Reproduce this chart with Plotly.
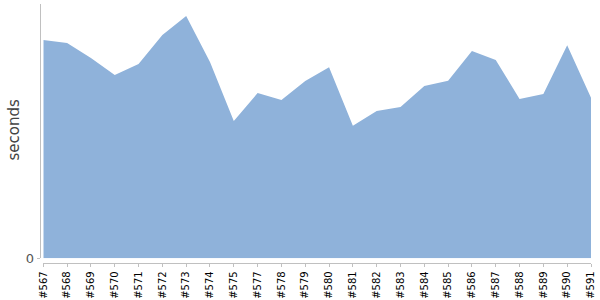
import plotly.graph_objects as go

builds = ["#567", "#568", "#569", "#570", "#571", "#572", "#573", "#574", "#575",
          "#577", "#578", "#579", "#580", "#581", "#582", "#583", "#584", "#585",
          "#586", "#587", "#588", "#589", "#590", "#591"]
seconds = [21.83, 21.53, 20.03, 18.33, 19.43, 22.33, 24.23, 19.63, 13.73,
           16.53, 15.83, 17.73, 19.10, 13.26, 14.73, 15.13, 17.23, 17.76,
           20.73, 19.83, 15.93, 16.43, 21.30, 16.06]
y_max = 25.43

W, H = 600, 300
fig = go.Figure()
fig.add_trace(go.Scatter(
    x=builds, y=seconds, mode="lines", fill="tozeroy",
    line=dict(width=0, color="#8fb2da"), fillcolor="#8fb2da",
    hoverinfo="x+y",
))

fig.update_layout(
    width=W, height=H,
    margin=dict(l=0, r=0, t=0, b=0, autoexpand=False),
    paper_bgcolor="white", plot_bgcolor="white",
    showlegend=False,
    font=dict(family="DejaVu Sans"),
    xaxis=dict(
        domain=[43.3 / W, 591 / W],
        anchor="free", position=1 - 263.3 / H,
        automargin=False,
        type="category", range=[0, len(builds) - 1],
        showgrid=False, zeroline=False,
        showline=True, linecolor="#c0c0c0", linewidth=1,
        ticks="outside", ticklen=3, tickcolor="#c0c0c0",
        tickangle=-90, tickfont=dict(size=10, color="#000000"),
    ),
    yaxis=dict(
        domain=[1 - 258.3 / H, 1 - 4 / H],
        anchor="free", position=39.7 / W,
        automargin=False,
        range=[0, y_max],
        showgrid=False, zeroline=False,
        showline=True, linecolor="#c0c0c0", linewidth=1,
        ticks="outside", ticklen=3, tickcolor="#c0c0c0",
        tickvals=[0], ticktext=["0"],
        tickfont=dict(size=13, color="#555555"),
    ),
    annotations=[dict(
        text="seconds", xref="paper", yref="paper",
        x=13.5 / W, y=1 - 130 / H, xanchor="center", yanchor="middle",
        showarrow=False, textangle=-90,
        font=dict(size=15, color="#444444"),
    )],
)

fig.write_html("out.html")
